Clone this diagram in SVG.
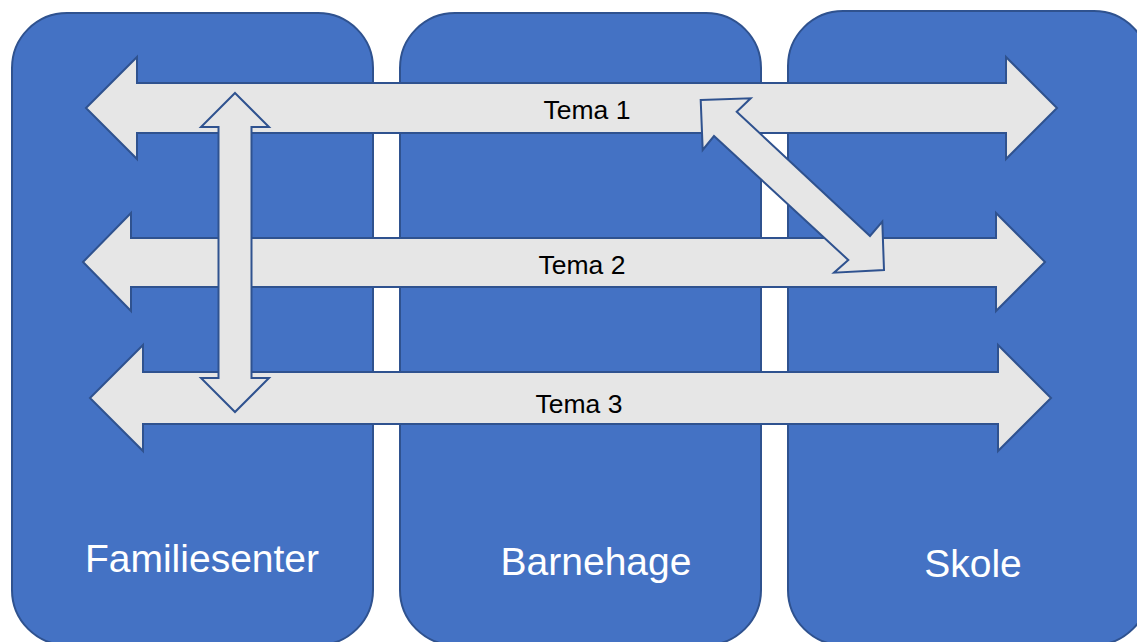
<svg xmlns="http://www.w3.org/2000/svg" width="1137" height="642" viewBox="0 0 1137 642">
  <style>
    .box { fill: #4472C4; stroke: #2F528F; stroke-width: 2; }
    .arrow { fill: #E6E6E6; stroke: #2F528F; stroke-width: 2; stroke-linejoin: miter; }
    .big { font-family: "Liberation Sans", Arial, sans-serif; font-size: 39px; fill: #FFFFFF; text-anchor: middle; }
    .tema { font-family: "Liberation Sans", Arial, sans-serif; font-size: 26.5px; fill: #000000; text-anchor: middle; }
  </style>
  <rect width="1137" height="642" fill="#FFFFFF"/>
  <g id="familiesenter">
    <rect class="box" x="12" y="13" width="361" height="632" rx="55" ry="55"/>
    <text class="big" x="202" y="572">Familiesenter</text>
  </g>
  <g id="barnehage">
    <rect class="box" x="400" y="13" width="361" height="632" rx="55" ry="55"/>
    <text class="big" x="596" y="575">Barnehage</text>
  </g>
  <g id="skole">
    <rect class="box" x="788" y="11" width="361" height="634" rx="55" ry="55"/>
    <text class="big" x="973" y="577">Skole</text>
  </g>
  <g id="connectors">
    <g id="tema1">
      <polygon class="arrow" points="86,108 137,57 137,83 1006,83 1006,57 1057,108 1006,159 1006,133 137,133 137,159"/>
      <text class="tema" x="587" y="119">Tema 1</text>
    </g>
    <g id="tema2">
      <polygon class="arrow" points="83,262 131,213 131,238 996,238 996,213 1045,262 996,311 996,287 131,287 131,311"/>
      <text class="tema" x="582" y="274">Tema 2</text>
    </g>
    <g id="tema3">
      <polygon class="arrow" points="90,398 143,345 143,372 998,372 998,345 1051,398 998,451 998,424 143,424 143,451"/>
      <text class="tema" x="579" y="413">Tema 3</text>
    </g>
    <polygon id="vertical-arrow" class="arrow" points="235,93 269,127 251.5,127 251.5,378 269,378 235,412 201,378 218.5,378 218.5,127 201,127"/>
    <polygon id="diagonal-arrow" class="arrow" points="700.7,100 750.7,98.3 736.7,111.7 870,236 882.3,221.7 884,270 834,272.7 848.3,260 714,136 702.7,150"/>
  </g>
</svg>
